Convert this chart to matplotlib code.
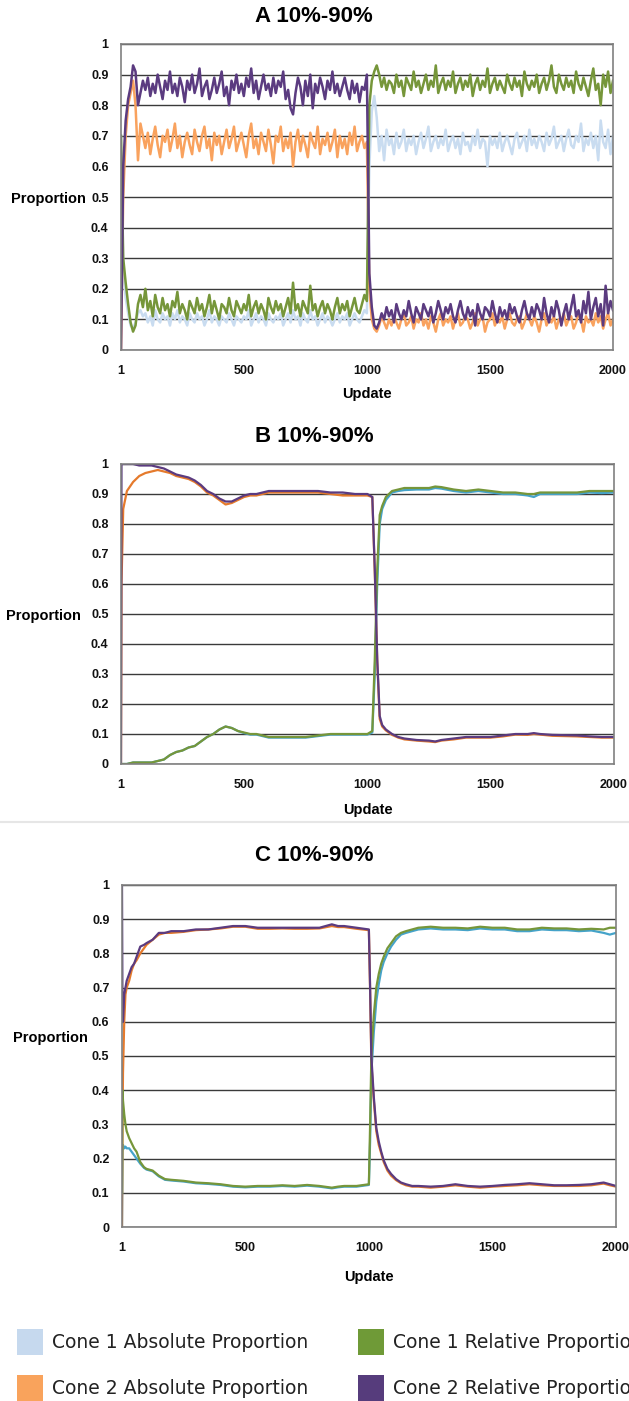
import numpy as np
import matplotlib
matplotlib.use("Agg")
import matplotlib.pyplot as plt
from matplotlib.patches import Rectangle
from matplotlib.lines import Line2D

W, H = 629, 1401

# ---- panel A: noisy run, sampled every 10 updates (values in %)
xa = [1] + list(range(10, 2001, 10))

a_c2_rel = [0, 60, 75, 82, 86, 93, 91, 80, 84, 88,
            85, 89, 83, 87, 84, 90, 86, 82, 88, 85,
            91, 84, 87, 83, 89, 86, 81, 88, 85, 90,
            84, 87, 92, 83, 86, 88, 82, 85, 89, 84,
            87, 91, 83, 86, 80, 88, 85, 90, 84, 87,
            83, 89, 86, 92, 84, 88, 82, 86, 90, 85,
            87, 83, 89, 84, 88, 86, 91, 82, 85, 79,
            77, 84, 89, 86, 80, 88, 83, 90, 79, 87,
            84, 89, 86, 82, 88, 85, 91, 84, 87, 83,
            86, 89, 85, 82, 88, 84, 87, 81, 86, 85, 90,
            25, 14, 8, 7, 9, 12, 10, 14, 11, 13,
            9, 15, 12, 10, 13, 11, 16, 12, 9, 14,
            12, 10, 15, 13, 11, 14, 9, 12, 16, 13,
            10, 14, 12, 15, 11, 9, 13, 16, 12, 10,
            14, 11, 13, 8, 15, 12, 10, 14, 13, 11,
            16, 12, 9, 14, 11, 13, 10, 15, 12, 14,
            11, 9, 13, 16, 12, 10, 14, 11, 15, 13,
            10, 17, 12, 9, 14, 11, 16, 13, 8, 12,
            15, 10, 14, 18, 11, 13, 9, 16, 12, 19,
            10, 14, 17, 11, 15, 8, 21, 12, 16, 13]

a_c2_abs = [0, 50, 70, 80, 84, 88, 80, 62, 74, 70,
            66, 71, 64, 69, 73, 67, 63, 70, 68, 72,
            65, 69, 74, 66, 70, 63, 68, 71, 67, 64,
            72, 68, 65, 70, 73, 66, 69, 62, 71, 67,
            70, 64, 68, 72, 66, 69, 73, 65, 68, 71,
            67, 63, 70, 74, 66, 69, 64, 71, 68, 65,
            72, 67, 61, 70, 68, 73, 65, 69, 66, 71,
            60, 68, 72, 65, 70, 67, 63, 71, 68, 66,
            73, 64, 69, 67, 71, 65, 68, 72, 63, 70,
            66, 69, 64, 71, 67, 73, 65, 68, 70, 66, 68,
            20, 10, 7, 6, 8, 11, 9, 7, 10, 8,
            11, 9, 7, 10, 12, 8, 9, 11, 7, 10,
            9, 12, 8, 10, 7, 11, 9, 6, 10, 12,
            8, 10, 9, 11, 7, 10, 12, 8, 9, 11,
            10, 7, 9, 12, 8, 10, 11, 6, 9, 10,
            12, 8, 10, 9, 11, 7, 10, 12, 9, 8,
            10, 11, 7, 9, 12, 10, 8, 11, 9, 6,
            10, 12, 8, 10, 9, 11, 7, 10, 9, 12,
            8, 10, 11, 7, 9, 12, 10, 6, 11, 9,
            10, 8, 12, 9, 11, 7, 10, 12, 8, 10]

a_c1_rel = [70, 30, 22, 15, 9, 6, 8, 15, 18, 14,
            20, 13, 16, 11, 18, 14, 12, 17, 13, 15,
            11, 16, 14, 19, 12, 15, 13, 10, 16, 14,
            12, 17, 13, 15, 11, 14, 18, 12, 16, 13,
            10, 15, 14, 12, 17, 13, 11, 16, 14, 12,
            15, 13, 18, 11, 14, 16, 12, 15, 13, 10,
            17, 14, 12, 16, 13, 15, 11, 14, 17, 12,
            22, 13, 15, 11, 16, 14, 12, 21, 13, 15,
            11, 14, 16, 12, 15, 13, 10, 14, 17, 12,
            15, 13, 16, 11, 14, 17, 13, 12, 15, 18, 16,
            80, 88, 91, 93, 90, 86, 89, 85, 88, 87,
            84, 90, 86, 88, 83, 89, 87, 85, 91, 86,
            88, 84, 87, 90, 85, 88, 86, 93, 84, 87,
            89, 85, 88, 86, 91, 84, 87, 89, 85, 88,
            86, 90, 83, 87, 89, 85, 88, 86, 92, 84,
            87, 89, 85, 88, 86, 84, 90, 87, 85, 89,
            86, 88, 83, 91, 87, 85, 88, 86, 90, 84,
            87, 89, 85, 88, 93, 86, 84, 90, 87, 85,
            89, 86, 88, 84, 91, 87, 85, 89, 86, 83,
            88, 92, 85, 87, 80, 90, 86, 91, 84, 88]

a_c1_abs = [70, 25, 17, 12, 8, 7, 9, 12, 13, 11,
            12, 9, 11, 8, 13, 10, 9, 12, 10, 11,
            8, 12, 10, 13, 9, 11, 10, 8, 12, 10,
            9, 12, 10, 11, 8, 10, 13, 9, 11, 10,
            8, 11, 10, 9, 12, 10, 8, 11, 10, 9,
            11, 10, 13, 8, 10, 12, 9, 11, 10, 8,
            12, 10, 9, 11, 10, 12, 8, 10, 12, 9,
            13, 10, 11, 8, 12, 10, 9, 13, 10, 11,
            8, 10, 12, 9, 11, 10, 8, 10, 12, 9,
            11, 10, 12, 8, 10, 12, 10, 9, 11, 13, 12,
            60, 78, 83, 76, 65, 70, 62, 72, 67, 69,
            64, 71, 66, 68, 72, 65, 69, 67, 70, 64,
            68, 71, 66, 69, 73, 65, 68, 70, 66, 69,
            67, 72, 65, 68, 70, 66, 69, 64, 71, 67,
            68, 65, 70, 67, 72, 66, 69, 68, 60, 70,
            67, 69, 66, 71, 65, 68, 70, 67, 64, 69,
            71, 66, 68, 70, 65, 72, 67, 69, 66, 70,
            68, 65, 71, 67, 69, 73, 66, 68, 70, 65,
            69, 72, 67, 66, 70, 68, 74, 65, 69, 67,
            71, 66, 70, 62, 75, 68, 66, 72, 64, 70]

# ---- panel B (values in %)
xb = [1, 3, 10, 25, 50, 75, 100, 125, 150, 175,
      200, 225, 250, 275, 300, 325, 350, 375, 400, 425,
      450, 475, 500, 525, 550, 575, 600, 650, 700, 750,
      800, 850, 900, 950, 1000, 1020, 1030, 1040, 1050, 1060,
      1075, 1100, 1125, 1150, 1200, 1250, 1275, 1300, 1350, 1400,
      1450, 1500, 1550, 1600, 1650, 1675, 1700, 1750, 1800, 1850,
      1900, 1950, 2000]

b_c2_rel = [0, 100, 100, 100, 100, 99.5, 99.5, 99.5, 99, 98.5,
            97.5, 96.5, 96, 95.5, 94.5, 93, 91, 90, 88.5, 87.5,
            87.5, 88.5, 89.5, 90, 90, 90.5, 91, 91, 91, 91,
            91, 90.5, 90.5, 90, 90, 89, 65, 35, 16, 13,
            11.5, 10, 9, 8.5, 8, 7.8, 7.5, 8, 8.5, 9,
            9, 9, 9.5, 10, 10, 10.3, 10, 9.7, 9.6, 9.5,
            9.2, 9, 9]

b_c2_abs = [0, 60, 85, 91, 94, 96, 97, 97.5, 98, 97.5,
            97, 96, 95.5, 95, 94, 92.5, 90.5, 89.5, 88, 86.5,
            87, 88, 89, 89.5, 89.5, 90, 90.5, 90.5, 90.5, 90.5,
            90.5, 90, 89.5, 89.5, 89.5, 89, 64, 34, 15, 12.5,
            11.2, 9.7, 8.8, 8.2, 7.8, 7.5, 7.3, 7.8, 8.2, 8.8,
            8.8, 8.8, 9.2, 9.8, 9.7, 10, 9.8, 9.4, 9.3, 9.2,
            9, 8.8, 8.8]

b_c1_rel = [0, 0, 0, 0, 0.5, 0.5, 0.5, 0.5, 1, 1.5,
            3, 4, 4.5, 5.5, 6, 7.5, 9, 10, 11.5, 12.5,
            12, 11, 10.5, 10, 10, 9.5, 9, 9, 9, 9,
            9.5, 10, 10, 10, 10, 11, 35, 65, 83, 86,
            89, 91, 91.5, 92, 92, 92, 92.5, 92.3, 91.5, 91,
            91.5, 91, 90.5, 90.5, 90, 90, 90.5, 90.5, 90.5, 90.5,
            91, 91, 91]

b_c1_abs = [0, 0, 0, 0, 0.5, 0.5, 0.5, 0.5, 1, 1.5,
            3, 4, 4.5, 5.5, 6, 7.5, 9, 10, 11.5, 12.5,
            12, 11, 10.3, 9.8, 9.8, 9.3, 8.8, 8.8, 8.8, 8.8,
            9.3, 9.8, 9.8, 9.8, 9.8, 10.5, 30, 60, 80, 85,
            88, 90.5, 91, 91.3, 91.5, 91.5, 92, 91.8, 91, 90.5,
            91, 90.5, 90, 90, 89.5, 89, 90, 90, 90, 90,
            90.5, 90.3, 90.5]

# ---- panel C (values in %)
xc = [1, 3, 5, 10, 15, 20, 30, 40, 50, 60,
      75, 90, 100, 125, 150, 175, 200, 250, 300, 350,
      400, 450, 500, 550, 600, 650, 700, 750, 800, 850,
      875, 900, 950, 1000, 1005, 1010, 1020, 1030, 1040, 1050,
      1060, 1075, 1090, 1110, 1130, 1150, 1175, 1200, 1250, 1300,
      1350, 1400, 1450, 1500, 1550, 1600, 1650, 1700, 1750, 1800,
      1850, 1900, 1950, 1975, 2000]

c_c2_rel = [100, 62, 60, 68, 70, 72, 74, 76, 77, 79,
            82, 82.5, 83, 84, 86, 86, 86.5, 86.5, 87, 87,
            87.5, 88, 88, 87.5, 87.5, 87.5, 87.5, 87.5, 87.5, 88.5,
            88, 88, 87.5, 87, 70, 50, 38, 29, 25, 22,
            19.5, 17, 15.5, 14, 13, 12.5, 12, 12, 11.8, 12,
            12.5, 12, 11.8, 12, 12.3, 12.5, 12.8, 12.5, 12.2, 12.2,
            12.3, 12.5, 13, 12.5, 12]

c_c2_abs = [0, 30, 45, 60, 68, 70, 72, 75, 77, 78,
            80, 81.5, 82.5, 84, 85.5, 86, 86, 86.3, 86.8, 87,
            87.3, 87.8, 87.8, 87.2, 87.2, 87.3, 87.2, 87.2, 87.3, 88,
            87.7, 87.7, 87.2, 86.8, 69, 48, 37, 28, 24, 21.5,
            19, 16.5, 15, 13.7, 12.8, 12.2, 11.8, 11.8, 11.5, 11.8,
            12.2, 11.8, 11.5, 11.8, 12, 12.2, 12.5, 12.2, 12, 12,
            12, 12.2, 12.7, 12.2, 11.8]

c_c1_rel = [10, 40, 37, 33, 30, 28, 26, 24.5, 23, 22,
            19, 17.5, 17, 16.5, 15, 14, 13.8, 13.5, 13, 12.8,
            12.5, 12, 11.8, 12, 12, 12.2, 12, 12.3, 12, 11.5,
            11.8, 12, 12, 12.5, 30, 50, 62, 70, 74, 77,
            79, 81.5, 83, 85, 86, 86.5, 87, 87.5, 87.8, 87.5,
            87.5, 87.3, 87.8, 87.5, 87.5, 87, 87, 87.5, 87.3, 87.3,
            87, 87.2, 87, 87.5, 87.5]

c_c1_abs = [0, 22, 24, 23, 23.5, 23, 23, 22, 21, 20,
            18.5, 17.3, 16.8, 16.3, 14.8, 13.8, 13.6, 13.3, 12.8, 12.6,
            12.3, 11.8, 11.6, 11.8, 11.8, 12, 11.8, 12.1, 11.8, 11.3,
            11.6, 11.8, 11.8, 12.3, 25, 45, 57, 66, 71, 75,
            77.5, 80, 82, 84, 85.5, 86, 86.5, 87, 87.3, 87,
            87, 86.8, 87.3, 87, 87, 86.5, 86.5, 87, 86.8, 86.8,
            86.5, 86.7, 86, 85.5, 86]

labels = ["Cone 1 Absolute Proportion", "Cone 2 Absolute Proportion",
          "Cone 1 Relative Proportion", "Cone 2 Relative Proportion"]
yticks = [0, 0.1, 0.2, 0.3, 0.4, 0.5, 0.6, 0.7, 0.8, 0.9, 1]
ytick_labels = ["0", "0.1", "0.2", "0.3", "0.4", "0.5", "0.6", "0.7", "0.8", "0.9", "1"]
xticks = [1, 500, 1000, 1500, 2000]

BOLD = "Liberation Sans"
col_c1abs_a = "#c9dcf0"
col_c1abs = "#45a3c9"
col_c2abs_a = "#f9a25e"
col_c2abs = "#e57a2c"
col_c1rel = "#76963a"
col_c2rel = "#5b3b80"


def fx(px):
    return px / W


def fy(py):
    return 1 - py / H


fig = plt.figure(figsize=(W / 100, H / 100), dpi=100)


def panel(top, bottom, left, right, title, title_y, ylab_x, ylab_y, upd_y,
          x, series, colors, lw):
    ax = fig.add_axes([fx(left), fy(bottom), fx(right - left), (bottom - top) / H])
    for yv, c in zip(series, colors):
        ax.plot(x, np.array(yv) / 100.0, color=c, lw=lw, solid_joinstyle="round")
    ax.set_xlim(1, 2000)
    ax.set_ylim(0, 1)
    ax.set_yticks(yticks)
    ax.set_yticklabels(ytick_labels)
    ax.set_xticks(xticks)
    ax.set_xticklabels([str(t) for t in xticks])
    for lbl in ax.get_xticklabels() + ax.get_yticklabels():
        lbl.set_fontfamily(BOLD)
        lbl.set_fontweight("bold")
        lbl.set_fontsize(9)
        lbl.set_color("#111111")
    ax.tick_params(axis="y", length=0, pad=9)
    ax.tick_params(axis="x", length=0, pad=11)
    ax.grid(axis="y", color="#3a3a3a", lw=1.0)
    ax.set_axisbelow(True)
    for s in ax.spines.values():
        s.set_color("#808080")
        s.set_linewidth(1.2)
    fig.text(fx(314), fy(title_y), title, ha="center", va="center",
             fontfamily=BOLD, fontweight="bold", fontsize=16)
    fig.text(fx(ylab_x), fy(ylab_y), "Proportion", ha="center", va="center",
             fontfamily=BOLD, fontweight="bold", fontsize=10.5)
    fig.text(fx((left + right) / 2), fy(upd_y), "Update", ha="center", va="center",
             fontfamily=BOLD, fontweight="bold", fontsize=10.5)
    return ax


panel(44, 350, 121, 613, "A 10%-90%", 17, 48, 199, 394,
      xa, [a_c1_abs, a_c2_abs, a_c1_rel, a_c2_rel],
      [col_c1abs_a, col_c2abs_a, col_c1rel, col_c2rel], 1.8)

panel(464, 764, 121, 614, "B 10%-90%", 437, 43, 616, 810,
      xb, [b_c1_abs, b_c2_abs, b_c1_rel, b_c2_rel],
      [col_c1abs, col_c2abs, col_c1rel, col_c2rel], 1.6)

# faint separator above panel C
fig.add_artist(Line2D([0, 1], [fy(822), fy(822)], transform=fig.transFigure,
                      color="#e6e6e6", lw=1.5))

panel(885, 1227, 122, 616, "C 10%-90%", 855, 50, 1038, 1277,
      xc, [c_c1_abs, c_c2_abs, c_c1_rel, c_c2_rel],
      [col_c1abs, col_c2abs, col_c1rel, col_c2rel], 1.6)

# legend at the bottom
leg_colors = ["#c6d9ee", "#f9a35c", "#6f9a37", "#563c7c"]
leg_pos = [(17, 1342), (17, 1388), (358, 1342), (358, 1388)]
for (px, py), c, t in zip(leg_pos, leg_colors, labels):
    fig.add_artist(Rectangle((fx(px), fy(py + 13)), 26 / W, 26 / H,
                             transform=fig.transFigure, facecolor=c, edgecolor="none"))
    fig.text(fx(px + 35), fy(py), t, ha="left", va="center",
             fontfamily="DejaVu Sans", fontsize=13.5, color="#222222")

fig.savefig("out.png", dpi=100)
